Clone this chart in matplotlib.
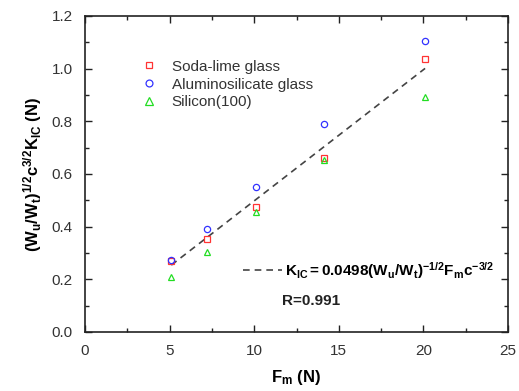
import matplotlib
matplotlib.use("Agg")
import matplotlib.pyplot as plt
from matplotlib.ticker import MultipleLocator
from matplotlib.lines import Line2D

plt.rcParams['font.family'] = ['Liberation Sans', 'DejaVu Sans']
plt.rcParams['mathtext.fontset'] = 'custom'
plt.rcParams['mathtext.rm'] = 'Liberation Sans'
plt.rcParams['mathtext.it'] = 'Liberation Sans'
plt.rcParams['mathtext.bf'] = 'Liberation Sans:bold'

fm = [5.1, 7.2, 10.1, 14.1, 20.1]
soda_lime = [0.270, 0.355, 0.475, 0.660, 1.035]
aluminosilicate = [0.275, 0.390, 0.550, 0.790, 1.105]
silicon = [0.210, 0.305, 0.455, 0.655, 0.893]
fit_x = [5.1, 20.1]
fit_slope = 0.0498

fig = plt.figure(figsize=(5.19, 3.91), dpi=100)
ax = fig.add_axes([0.1638, 0.1509, 0.8150, 0.8082])

ax.plot(fit_x, [fit_slope * v for v in fit_x], linestyle=(0, (4, 3)), color='#444444', lw=1.2, zorder=1)
h1, = ax.plot(fm, soda_lime, 's', ms=4.2, mfc='none', mec='#ff3333', mew=0.9, label='Soda-lime glass', zorder=3)
h2, = ax.plot(fm, aluminosilicate, 'o', ms=4.5, mfc='none', mec='#3333ff', mew=0.9, label='Aluminosilicate glass', zorder=3)
h3, = ax.plot(fm, silicon, '^', ms=5, mfc='none', mec='#22dd22', mew=0.9, label='Silicon(100)', zorder=3)

ax.set_xlim(0, 25)
ax.set_ylim(0, 1.2)
ax.xaxis.set_major_locator(MultipleLocator(5))
ax.xaxis.set_minor_locator(MultipleLocator(2.5))
ax.yaxis.set_major_locator(MultipleLocator(0.2))
ax.yaxis.set_minor_locator(MultipleLocator(0.1))
ax.yaxis.set_major_formatter(matplotlib.ticker.FormatStrFormatter('%.1f'))
ax.tick_params(which='both', direction='in', top=True, right=True, labelsize=11, colors='#222222', labelcolor='#333333')
ax.tick_params(which='major', length=5, width=1)
ax.tick_params(which='minor', length=3, width=1)
ax.tick_params(axis='x', pad=9)
ax.tick_params(axis='y', pad=9)
for s in ax.spines.values():
    s.set_linewidth(1.2)
    s.set_color('#222222')

ax.set_xlabel(r'$\mathbf{F_m}$ (N)', fontsize=12, fontweight='bold', labelpad=7)
ax.set_ylabel(r'$\mathbf{(W_u/W_t)^{1/2}c^{3/2}K_{IC}}$ (N)', fontsize=12, fontweight='bold', labelpad=5)

leg = ax.legend(handles=[h1, h2, h3], loc='upper left', bbox_to_anchor=(0.1, 0.905),
                frameon=False, fontsize=11, handlelength=1.0, handletextpad=1.0,
                labelspacing=0.25, labelcolor='#333333', markerscale=1.1)
ax.add_artist(leg)

fit_handle = Line2D([], [], linestyle=(0, (4, 3)), color='#444444', lw=1.2)
ax.legend(handles=[fit_handle],
          labels=[r'$\mathbf{K_{IC}=0.0498(W_u/W_t)^{-1/2}F_mc^{-3/2}}$'],
          loc='lower left', bbox_to_anchor=(0.34, 0.118), frameon=False, fontsize=11,
          handlelength=2.6, handletextpad=0.2)
ax.text(0.465, 0.085, 'R=0.991', transform=ax.transAxes, fontsize=11, fontweight='bold', color='#222222')

fig.savefig('out.png', dpi=100)
